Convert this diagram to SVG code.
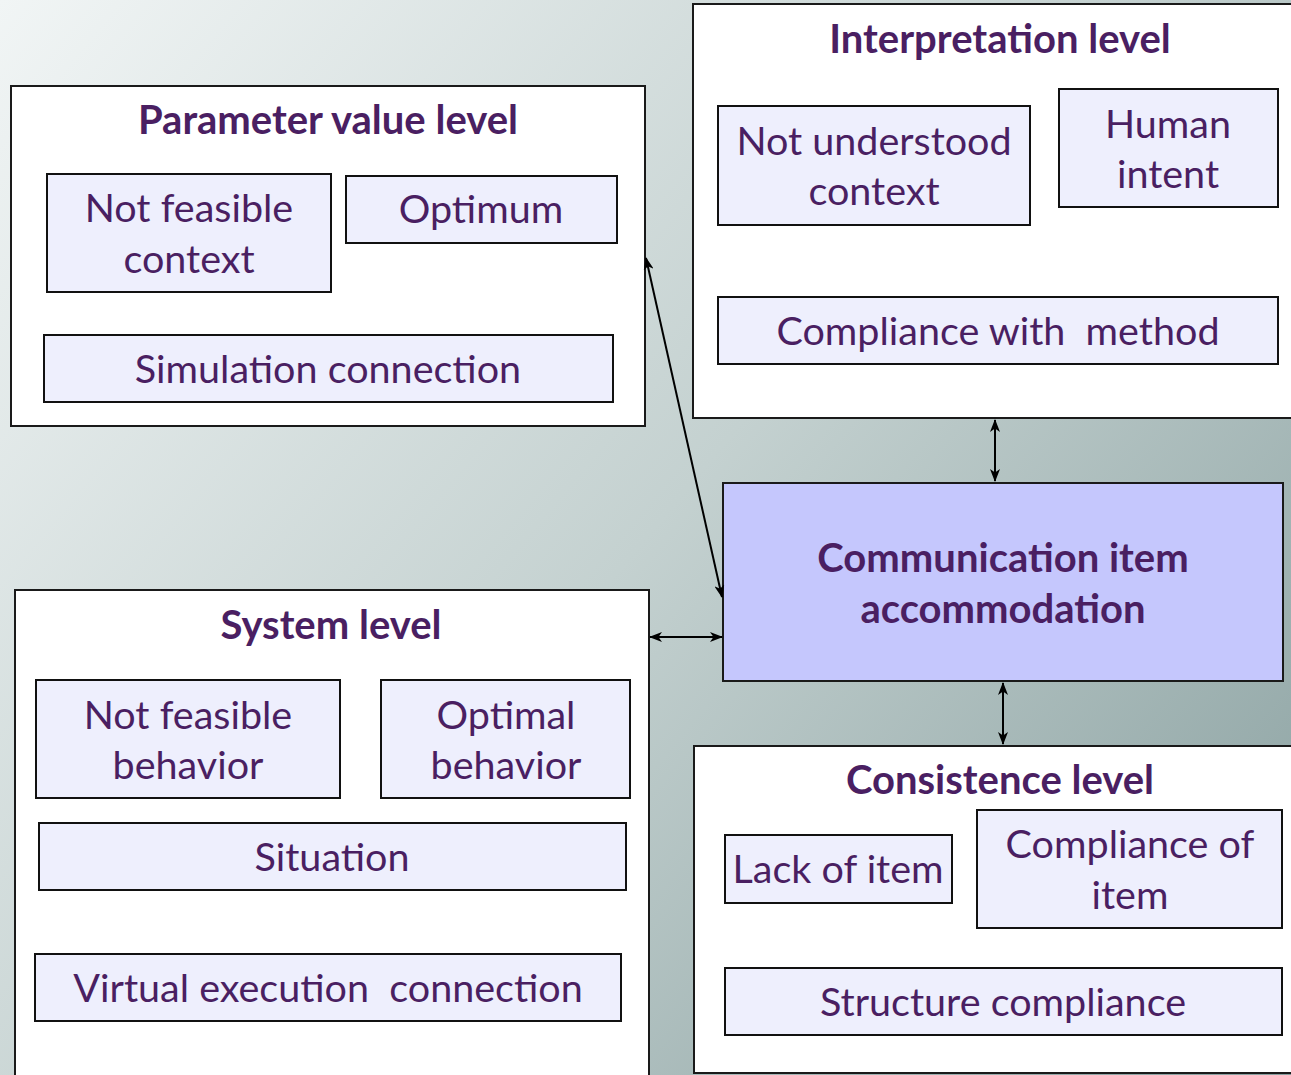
<svg xmlns="http://www.w3.org/2000/svg" width="1291" height="1075" viewBox="0 0 1291 1075">
<defs>
<linearGradient id="bg" x1="0" y1="0" x2="1291" y2="1075" gradientUnits="userSpaceOnUse">
<stop offset="0" stop-color="#f1f5f5"/>
<stop offset="0.5" stop-color="#c4d1d0"/>
<stop offset="1" stop-color="#889f9f"/>
</linearGradient>
<marker id="ah" viewBox="0 0 13 10" refX="12" refY="5" markerWidth="13" markerHeight="10" markerUnits="userSpaceOnUse" orient="auto-start-reverse">
<path d="M0,0 L13,5 L0,10 L3.5,5 z" fill="#000"/>
</marker>
<style>
.lvl{fill:#fff;stroke:#1a1a1a;stroke-width:2}
.item{fill:#eeeffd;stroke:#111;stroke-width:2}
.main{fill:#c5c7fd;stroke:#1a1a1a;stroke-width:2}
text{font-family:Lato,"Open Sans","Liberation Sans",sans-serif;fill:#4a1f62;text-anchor:middle}
.t{font-weight:bold;font-size:40px}
.n{font-size:39.5px}
.con{stroke:#000;stroke-width:2;fill:none;marker-start:url(#ah);marker-end:url(#ah)}
</style>
</defs>
<rect x="0" y="0" width="1291" height="1075" fill="url(#bg)"/>

<g id="parameter-level">
<rect class="lvl" x="11" y="86" width="634" height="340"/>
<text class="t" x="328" y="134">Parameter value level</text>
<rect class="item" x="47" y="174" width="284" height="118"/>
<text class="n" x="189" y="222">Not feasible</text>
<text class="n" x="189" y="273">context</text>
<rect class="item" x="346" y="176" width="271" height="67"/>
<text class="n" x="481" y="223">Optimum</text>
<rect class="item" x="44" y="335" width="569" height="67"/>
<text class="n" x="328" y="383">Simulation connection</text>
</g>

<g id="interpretation-level">
<rect class="lvl" x="693" y="4" width="610" height="414"/>
<text class="t" x="1000" y="53">Interpretation level</text>
<rect class="item" x="718" y="106" width="312" height="119"/>
<text class="n" x="874" y="155">Not understood</text>
<text class="n" x="874" y="205">context</text>
<rect class="item" x="1059" y="89" width="219" height="118"/>
<text class="n" x="1168" y="138">Human</text>
<text class="n" x="1168" y="188">intent</text>
<rect class="item" x="718" y="297" width="560" height="67"/>
<text class="n" x="998" y="345" xml:space="preserve">Compliance with  method</text>
</g>

<g id="communication-item">
<rect class="main" x="723" y="483" width="560" height="198"/>
<text class="t" x="1003" y="572">Communication item</text>
<text class="t" x="1003" y="623">accommodation</text>
</g>

<g id="system-level">
<rect class="lvl" x="15" y="590" width="634" height="500"/>
<text class="t" x="331" y="639">System level</text>
<rect class="item" x="36" y="680" width="304" height="118"/>
<text class="n" x="188" y="729">Not feasible</text>
<text class="n" x="188" y="779">behavior</text>
<rect class="item" x="381" y="680" width="249" height="118"/>
<text class="n" x="506" y="729">Optimal</text>
<text class="n" x="506" y="779">behavior</text>
<rect class="item" x="39" y="823" width="587" height="67"/>
<text class="n" x="332" y="871">Situation</text>
<rect class="item" x="35" y="954" width="586" height="67"/>
<text class="n" x="328" y="1002" xml:space="preserve">Virtual execution  connection</text>
</g>

<g id="consistence-level">
<rect class="lvl" x="694" y="746" width="610" height="327"/>
<text class="t" x="1000" y="794">Consistence level</text>
<rect class="item" x="725" y="835" width="227" height="68"/>
<text class="n" x="838" y="883">Lack of item</text>
<rect class="item" x="977" y="810" width="305" height="118"/>
<text class="n" x="1130" y="858">Compliance of</text>
<text class="n" x="1130" y="909">item</text>
<rect class="item" x="725" y="968" width="557" height="67"/>
<text class="n" x="1003" y="1016">Structure compliance</text>
</g>

<g id="connectors">
<line class="con" x1="646" y1="258" x2="722" y2="597"/>
<line class="con" x1="995" y1="420" x2="995" y2="481"/>
<line class="con" x1="650" y1="637" x2="722" y2="637"/>
<line class="con" x1="1003" y1="683" x2="1003" y2="744"/>
</g>
</svg>
